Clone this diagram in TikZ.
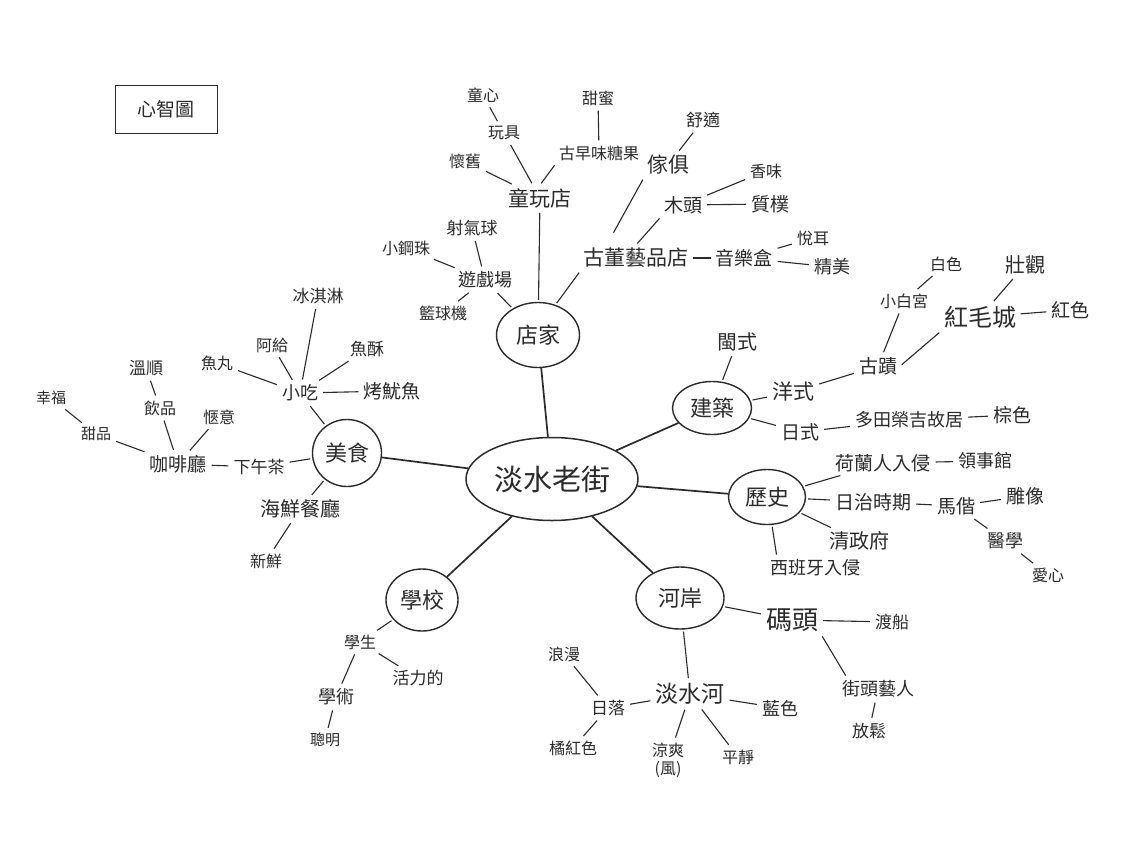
\documentclass[tikz,border=0pt]{standalone}
\usepackage{fontspec}
\setmainfont{Noto Sans CJK TC}
\usetikzlibrary{shapes.geometric}
\definecolor{ink}{HTML}{2B2B2B}
\tikzset{
  hub/.style={ellipse, draw=ink, line width=1.5pt, inner sep=0pt,
              minimum width=172pt, minimum height=83pt,
              font=\fontsize{29}{31}\selectfont, text=ink},
  topic/.style={ellipse, draw=ink, line width=1.4pt, inner sep=0pt,
                font=\fontsize{22}{24}\selectfont, text=ink},
  word/.style={inner sep=3pt, font=\fontsize{16}{18}\selectfont, text=ink},
  wordM/.style={inner sep=3pt, font=\fontsize{19}{21}\selectfont, text=ink},
  wordL/.style={inner sep=3pt, font=\fontsize{21}{23}\selectfont, text=ink},
  spoke/.style={draw=ink, line width=1.7pt},
  link/.style={draw=ink, line width=1.1pt, shorten <=2pt, shorten >=2pt},
  tie/.style={draw=ink, line width=1.1pt, shorten <=1.5pt, shorten >=1.5pt},
}
\begin{document}
\begin{tikzpicture}[x=1pt, y=-1pt]
  \fill[white] (0,0) rectangle (1140,855);
  % title box
  \node[draw=ink, line width=1pt, minimum width=102pt, minimum height=48pt,
        font=\fontsize{19}{21}\selectfont, text=ink] (title) at (166,109) {心智圖};
  % centre and topics
  \node[hub] (laojie) at (552,479) {淡水老街};
  \node[topic, minimum width=83pt, minimum height=65pt] (dianjia) at (538,335) {店家};
  \node[topic, minimum width=69pt, minimum height=67pt] (meishi) at (347,453) {美食};
  \node[topic, minimum width=79pt, minimum height=53pt] (jianzhu) at (712,408) {建築};
  \node[topic, minimum width=77pt, minimum height=55pt] (lishi) at (767,497) {歷史};
  \node[topic, minimum width=88pt, minimum height=62pt] (heyan) at (680,598) {河岸};
  \node[topic, minimum width=72pt, minimum height=62pt] (xuexiao) at (422,600) {學校};
  \foreach \t in {dianjia, meishi, jianzhu, lishi, heyan, xuexiao}
    \draw[spoke] (laojie) -- (\t);

  % shops
  \node[wordL] (tongwan) at (540,198) {童玩店};
  \node[word] (huaijiu) at (465,161) {懷舊};
  \node[word] (wanju) at (504,133) {玩具};
  \node[word] (tongxin) at (483,95) {童心};
  \node[word] (tangguo) at (599,153) {古早味糖果};
  \node[word] (tianmi) at (598,98) {甜蜜};
  \node[wordM, font=\fontsize{18}{20}\selectfont] (youxi) at (485,280) {遊戲場};
  \node[word, font=\fontsize{17}{19}\selectfont] (sheqiqiu) at (472,228) {射氣球};
  \node[word] (xiaogang) at (406,248) {小鋼珠};
  \node[word] (lanqiu) at (443,313) {籃球機};
  \node[wordL] (gudong) at (636,258) {古董藝品店};
  \node[wordM] (yinyue) at (744,258) {音樂盒};
  \node[word] (yueer) at (813,238) {悅耳};
  \node[wordM, font=\fontsize{18}{20}\selectfont] (jingmei) at (832,267) {精美};
  \node[wordL] (jiaju) at (668,165) {傢俱};
  \node[word, font=\fontsize{17}{19}\selectfont] (shushi) at (703,120) {舒適};
  \node[wordM] (mutou) at (683,205) {木頭};
  \node[word] (xiangwei) at (766,171) {香味};
  \node[wordM] (zhipu) at (770,204) {質樸};
  \draw[link] (dianjia) -- (tongwan);
  \draw[link] (dianjia) -- (youxi);
  \draw[link] (dianjia.60) -- (gudong.south west);
  \draw[link] (tongwan) -- (huaijiu);
  \draw[link] (tongwan) -- (wanju);
  \draw[link] (wanju) -- (tongxin);
  \draw[link] (tongwan.north) -- (tangguo.south west);
  \draw[link] (tangguo) -- (tianmi);
  \draw[link] (youxi) -- (sheqiqiu);
  \draw[link] (youxi) -- (xiaogang);
  \draw[link] (youxi) -- (lanqiu);
  \draw[tie] (gudong) -- (yinyue);
  \draw[link] (yinyue) -- (yueer);
  \draw[link] (yinyue) -- (jingmei);
  \draw[link, shorten <=14pt] (gudong.156) -- (jiaju.south west);
  \draw[link] (gudong.north) -- (mutou.south west);
  \draw[link] (jiaju) -- (shushi);
  \draw[link] (mutou) -- (xiangwei);
  \draw[link] (mutou) -- (zhipu);

  % architecture
  \node[wordM, font=\fontsize{20}{22}\selectfont] (minshi) at (737,342) {閩式};
  \node[wordL] (yangshi) at (793,392) {洋式};
  \node[wordM] (rishi) at (800,432) {日式};
  \node[wordM] (guji) at (878,366) {古蹟};
  \node[word] (xiaobai) at (904,301) {小白宮};
  \node[word] (baise) at (946,264) {白色};
  \node[wordL, font=\fontsize{24}{26}\selectfont] (hongmao) at (980,317) {紅毛城};
  \node[wordM, font=\fontsize{20}{22}\selectfont] (zhuangguan) at (1025,265) {壯觀};
  \node[wordM] (hongse) at (1070,310) {紅色};
  \node[wordM, font=\fontsize{18}{20}\selectfont] (duotian) at (909,420) {多田榮吉故居};
  \node[wordM] (zongse) at (1012,415) {棕色};
  \draw[link] (jianzhu) -- (minshi);
  \draw[link] (jianzhu) -- (yangshi);
  \draw[link] (jianzhu) -- (rishi);
  \draw[link] (yangshi) -- (guji);
  \draw[link] (guji) -- (xiaobai);
  \draw[link] (xiaobai) -- (baise);
  \draw[link] (guji.east) -- (hongmao.south west);
  \draw[link] (hongmao) -- (zhuangguan);
  \draw[tie] (hongmao) -- (hongse);
  \draw[link] (rishi) -- (duotian);
  \draw[link] (duotian) -- (zongse);

  % history
  \node[wordM] (helan) at (883,463) {荷蘭人入侵};
  \node[wordM, font=\fontsize{18}{20}\selectfont] (lingshi) at (985,461) {領事館};
  \node[wordM] (rizhi) at (873,502) {日治時期};
  \node[wordM] (majie) at (956,506) {馬偕};
  \node[wordM] (diaoxiang) at (1025,496) {雕像};
  \node[wordM, font=\fontsize{18}{20}\selectfont] (yixue) at (1005,541) {醫學};
  \node[word] (aixin) at (1048,575) {愛心};
  \node[wordM, font=\fontsize{20}{22}\selectfont] (qingzheng) at (859,541) {清政府};
  \node[wordM, font=\fontsize{18}{20}\selectfont] (xibanya) at (815,568) {西班牙入侵};
  \draw[link] (lishi) -- (helan);
  \draw[link] (helan) -- (lingshi);
  \draw[link] (lishi) -- (rizhi);
  \draw[link] (rizhi) -- (majie);
  \draw[link] (majie) -- (diaoxiang);
  \draw[link] (majie) -- (yixue);
  \draw[link] (yixue) -- (aixin);
  \draw[link] (lishi) -- (qingzheng);
  \draw[link] (lishi.-80) -- ([xshift=10pt]xibanya.north west);

  % riverside
  \node[wordL, font=\fontsize{26}{28}\selectfont] (matou) at (792,620) {碼頭};
  \node[word, font=\fontsize{17}{19}\selectfont] (duchuan) at (892,622) {渡船};
  \node[wordM, font=\fontsize{18}{20}\selectfont] (jietou) at (878,689) {街頭藝人};
  \node[word, font=\fontsize{17}{19}\selectfont] (fangsong) at (869,731) {放鬆};
  \node[wordL, font=\fontsize{23}{25}\selectfont] (danshuihe) at (690,694) {淡水河};
  \node[word, font=\fontsize{17}{19}\selectfont] (riluo) at (608,708) {日落};
  \node[word] (langman) at (564,654) {浪漫};
  \node[word] (juhong) at (573,748) {橘紅色};
  \node[word, align=center] (liangshuang) at (668,760) {涼爽\\(風)};
  \node[word] (pingjing) at (738,757) {平靜};
  \node[wordM, font=\fontsize{18}{20}\selectfont] (lanse) at (780,708) {藍色};
  \draw[link] (heyan) -- (matou);
  \draw[link] (matou) -- (duchuan);
  \draw[link] (matou.south east) -- ([xshift=8pt]jietou.north west);
  \draw[link] (jietou) -- (fangsong);
  \draw[link] (heyan) -- (danshuihe);
  \draw[link] (danshuihe) -- (riluo);
  \draw[link] (riluo) -- (langman);
  \draw[link] (riluo) -- (juhong);
  \draw[link] (danshuihe) -- (liangshuang);
  \draw[link] (danshuihe) -- (pingjing);
  \draw[link] (danshuihe) -- (lanse);

  % school
  \node[word] (xuesheng) at (360,642) {學生};
  \node[word, font=\fontsize{17}{19}\selectfont] (huoli) at (418,678) {活力的};
  \node[wordM, font=\fontsize{18}{20}\selectfont] (xueshu) at (336,697) {學術};
  \node[word, font=\fontsize{15}{17}\selectfont] (congming) at (325,740) {聰明};
  \draw[link] (xuexiao) -- (xuesheng);
  \draw[link] (xuesheng) -- (huoli);
  \draw[link] (xuesheng) -- (xueshu);
  \draw[link] (xueshu) -- (congming);

  % food
  \node[wordM, font=\fontsize{18}{20}\selectfont] (xiaochi) at (300,393) {小吃};
  \node[word] (yuwan) at (217,363) {魚丸};
  \node[word] (agei) at (272,345) {阿給};
  \node[word, font=\fontsize{17}{19}\selectfont] (bingqilin) at (318,296) {冰淇淋};
  \node[word, font=\fontsize{17}{19}\selectfont] (yusu) at (367,349) {魚酥};
  \node[wordM] (kaoyouyu) at (392,391) {烤魷魚};
  \node[word, font=\fontsize{17}{19}\selectfont] (xiawucha) at (259,467) {下午茶};
  \node[wordM] (kafei) at (178,464) {咖啡廳};
  \node[word, font=\fontsize{15}{17}\selectfont] (tianpin) at (96,434) {甜品};
  \node[word, font=\fontsize{15}{17}\selectfont] (xingfu) at (51,398) {幸福};
  \node[word] (yinpin) at (160,408) {飲品};
  \node[word, font=\fontsize{17}{19}\selectfont] (wenshun) at (146,368) {溫順};
  \node[word] (qieyi) at (219,417) {愜意};
  \node[wordM, font=\fontsize{20}{22}\selectfont] (haixian) at (300,509) {海鮮餐廳};
  \node[word] (xinxian) at (266,561) {新鮮};
  \draw[link] (meishi) -- (xiaochi);
  \foreach \t in {yuwan, agei, bingqilin, yusu, kaoyouyu}
    \draw[link] (xiaochi) -- (\t);
  \draw[link] (meishi) -- (xiawucha);
  \draw[link] (xiawucha) -- (kafei);
  \draw[link] (kafei) -- (tianpin);
  \draw[link] (tianpin) -- (xingfu);
  \draw[link] (kafei) -- (yinpin);
  \draw[link] (yinpin) -- (wenshun);
  \draw[link] (kafei) -- (qieyi);
  \draw[link] (meishi) -- (haixian);
  \draw[link] (haixian) -- (xinxian);
\end{tikzpicture}
\end{document}
